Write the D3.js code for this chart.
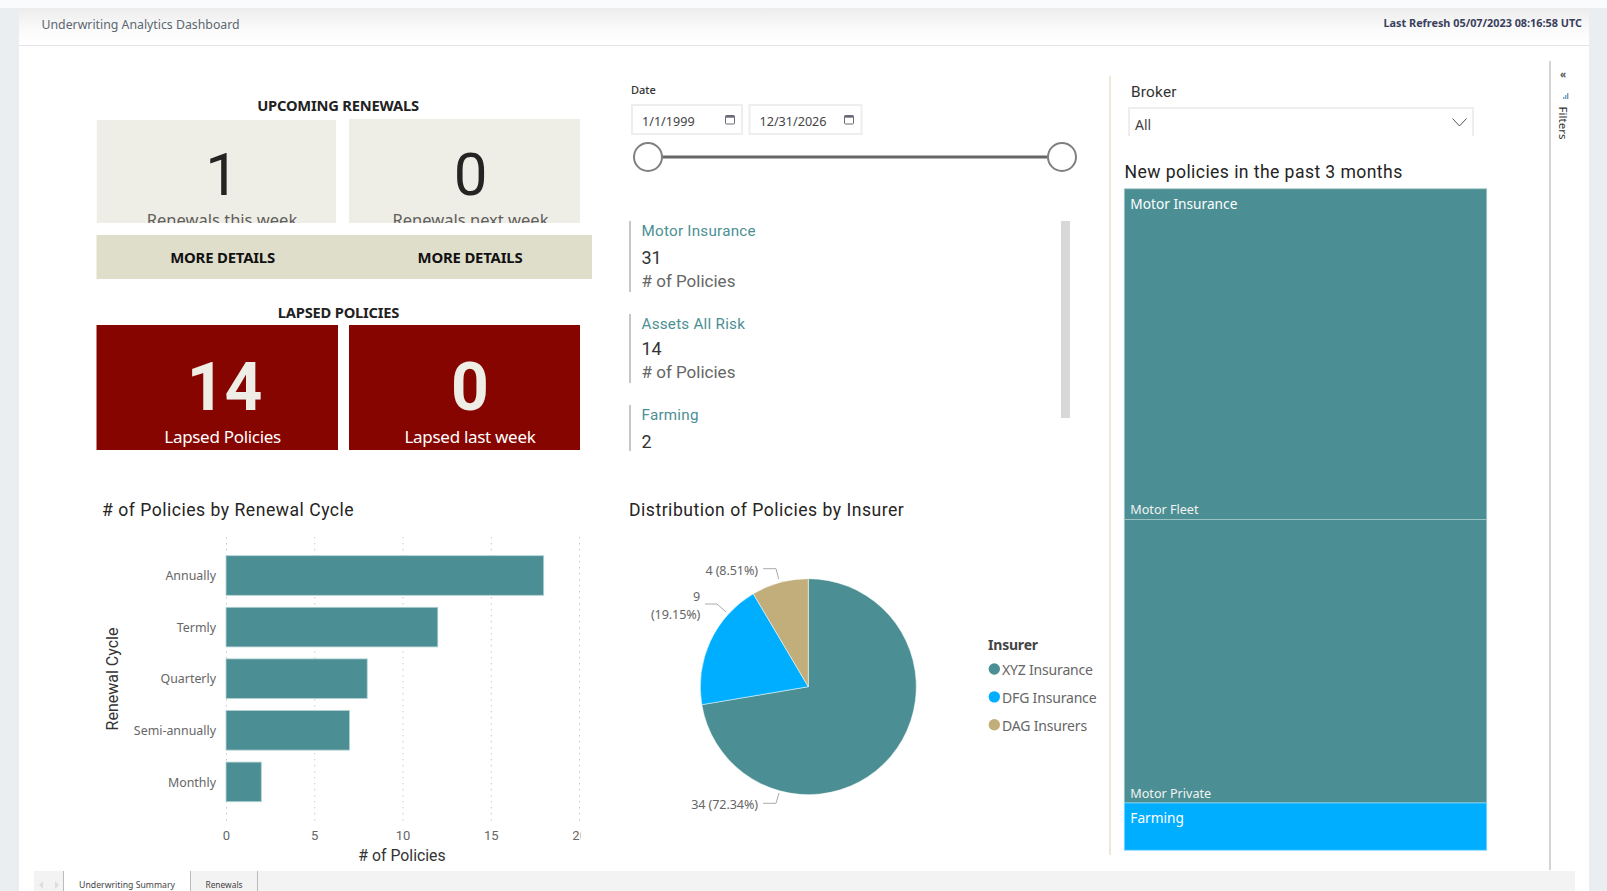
<!DOCTYPE html>
<html>
<head>
<meta charset="utf-8">
<title>Underwriting Analytics Dashboard</title>
<script src="https://cdn.jsdelivr.net/npm/d3@7"></script>
<style>
  html, body { margin: 0; padding: 0; background: #fff; overflow: hidden; }
  svg { display: block; }
  text { font-family: "Noto Sans", sans-serif; }
  .din { font-family: Roboto, sans-serif; }
</style>
</head>
<body>
<svg id="page" width="1607" height="891"></svg>
<script>
// chart values
const renewalCycles = ["Annually", "Termly", "Quarterly", "Semi-annually", "Monthly"];
const renewalCounts = [18, 12, 8, 7, 2];
const renewalTicks = [0, 5, 10, 15, 20];

const insurers = ["XYZ Insurance", "DFG Insurance", "DAG Insurers"];
const insurerCounts = [34, 9, 4];
const insurerPercents = ["72.34%", "19.15%", "8.51%"];

const newPolicyGroups = ["Motor Insurance", "Farming"];
const motorLeaves = ["Motor Fleet", "Motor Private"];
const motorLeafCounts = [7, 6];
const farmingCount = 1;

const lineNames = ["Motor Insurance", "Assets All Risk", "Farming"];
const lineCounts = [31, 14, 2];

const teal = "#4b8f94", blue = "#00aeff", tan = "#c2ae7a", darkRed = "#870500";
const insurerColor = d3.scaleOrdinal().domain(insurers).range([teal, blue, tan]);

const svg = d3.select("#page");
const defs = svg.append("defs");

function label(parent, x, y, str, size, opts = {}) {
  return parent.append("text")
    .attr("class", opts.din ? "din" : null)
    .attr("x", x).attr("y", y)
    .attr("dy", "0.35em")
    .attr("text-anchor", opts.anchor || "start")
    .attr("font-size", size)
    .attr("font-weight", opts.weight || 400)
    .attr("letter-spacing", opts.spacing || null)
    .attr("fill", opts.color || "#333")
    .text(str);
}

function clip(id, x, y, w, h) {
  defs.append("clipPath").attr("id", id)
    .append("rect").attr("x", x).attr("y", y).attr("width", w).attr("height", h);
}

function DrawFrame() {
  const grad = defs.append("linearGradient").attr("id", "headGrad")
    .attr("x1", 0).attr("x2", 0).attr("y1", 0).attr("y2", 1);
  grad.append("stop").attr("offset", 0).attr("stop-color", "#ececec");
  grad.append("stop").attr("offset", 0.6).attr("stop-color", "#fbfbfb");
  grad.append("stop").attr("offset", 1).attr("stop-color", "#fff");

  svg.append("rect").attr("width", 1607).attr("height", 891).attr("fill", "#eaeef1");
  svg.append("rect").attr("x", 19).attr("y", 8).attr("width", 1570).attr("height", 883).attr("fill", "#fff");
  svg.append("rect").attr("x", 19).attr("y", 8).attr("width", 1570).attr("height", 37).attr("fill", "url(#headGrad)");
  svg.append("rect").attr("width", 1607).attr("height", 8).attr("fill", "#f9fbfd");
  svg.append("line").attr("x1", 19).attr("x2", 1589).attr("y1", 45.5).attr("y2", 45.5).attr("stroke", "#e3e3e8");

  label(svg, 41.5, 24.5, "Underwriting Analytics Dashboard", 12.3, {color: "#5c6670"});
  label(svg, 1582, 23, "Last Refresh 05/07/2023 08:16:58 UTC", 10.85, {anchor: "end", weight: 700, color: "#3a3f5c"});

  // divider lines
  svg.append("line").attr("x1", 1110).attr("x2", 1110).attr("y1", 76).attr("y2", 855)
    .attr("stroke", "#efe8d8").attr("stroke-width", 2);
  svg.append("line").attr("x1", 1550).attr("x2", 1550).attr("y1", 61).attr("y2", 870)
    .attr("stroke", "#aaa").attr("stroke-width", 1);

  // filters pane
  label(svg, 1563, 74, "«", 10, {anchor: "middle", weight: 700, color: "#555"});
  svg.selectAll(".filterBar").data([2, 4, 6]).join("rect")
    .attr("x", d => 1561 + d).attr("y", d => 99 - d).attr("width", 1.4).attr("height", d => d)
    .attr("fill", "#6f9fc4");
  svg.append("text").attr("transform", "translate(1563,123) rotate(90)")
    .attr("text-anchor", "middle").attr("dy", "0.35em")
    .attr("font-size", 11.5).attr("fill", "#333").text("Filters");

  // page tabs
  svg.append("rect").attr("x", 34).attr("y", 871).attr("width", 1541).attr("height", 20).attr("fill", "#f3f3f3");
  svg.append("rect").attr("x", 63).attr("y", 871).attr("width", 127).attr("height", 20).attr("fill", "#fff");
  svg.selectAll(".tabLine").data([63.5, 190.5, 257.5]).join("line")
    .attr("x1", d => d).attr("x2", d => d).attr("y1", 871).attr("y2", 891).attr("stroke", "#bbb");
  label(svg, 127, 885, "Underwriting Summary", 8.7, {anchor: "middle", color: "#444"});
  label(svg, 224, 885, "Renewals", 8.4, {anchor: "middle", color: "#444"});
  svg.append("path").attr("d", "M43,881 L39,885 L43,889 Z").attr("fill", "#ddd");
  svg.append("path").attr("d", "M55,881 L59,885 L55,889 Z").attr("fill", "#ddd");
}

function DrawCards() {
  label(svg, 338, 106, "UPCOMING RENEWALS", 14.7, {anchor: "middle", weight: 700, color: "#222", spacing: "-0.2"});
  label(svg, 338.5, 313, "LAPSED POLICIES", 14.7, {anchor: "middle", weight: 700, color: "#222", spacing: "-0.2"});

  // upcoming cards, the caption is cut by the card edge like in the report
  const cards = [
    {x: 96.5, w: 239.5, y: 120, num: "1", cap: "Renewals this week", cx: 222},
    {x: 349, w: 231, y: 119, num: "0", cap: "Renewals next week", cx: 470.5}
  ];
  cards.forEach((c, i) => {
    clip("card" + i, c.x, c.y, c.w, 223 - c.y);
    const g = svg.append("g").attr("clip-path", `url(#card${i})`);
    g.append("rect").attr("x", c.x).attr("y", c.y).attr("width", c.w).attr("height", 223 - c.y).attr("fill", "#efeee6");
    label(g, c.cx, 173.5, c.num, 60, {anchor: "middle", din: true, color: "#252423"});
    label(g, c.cx, 220.5, c.cap, 16.5, {anchor: "middle", color: "#605e5c"});
  });

  svg.append("rect").attr("x", 96.5).attr("y", 235).attr("width", 495.5).attr("height", 44).attr("fill", "#dfdecb");
  label(svg, 222.6, 257.5, "MORE DETAILS", 14.9, {anchor: "middle", weight: 700, color: "#111", spacing: "-0.2"});
  label(svg, 470, 257.5, "MORE DETAILS", 14.9, {anchor: "middle", weight: 700, color: "#111", spacing: "-0.2"});

  const lapsed = [
    {x: 96.5, w: 241.5, num: "14", cap: "Lapsed Policies", cx: 224.6, capx: 222.6},
    {x: 349, w: 231, num: "0", cap: "Lapsed last week", cx: 470, capx: 470}
  ];
  lapsed.forEach(c => {
    svg.append("rect").attr("x", c.x).attr("y", 325).attr("width", c.w).attr("height", 125).attr("fill", darkRed);
    label(svg, c.cx, 387, c.num, 66, {anchor: "middle", weight: 700, din: true, color: "#efeee6"});
    label(svg, c.capx, 437, c.cap, 17, {anchor: "middle", color: "#fff", spacing: "-0.3"});
  });
}

function DrawDateSlicer() {
  label(svg, 631, 90, "Date", 11, {color: "#333", weight: 500});
  const boxes = [
    {x: 632, w: 110, str: "1/1/1999", ix: 730},
    {x: 749.5, w: 112, str: "12/31/2026", ix: 849}
  ];
  boxes.forEach(b => {
    svg.append("rect").attr("x", b.x).attr("y", 105).attr("width", b.w).attr("height", 29)
      .attr("fill", "#fff").attr("stroke", "#eee").attr("stroke-width", 2);
    label(svg, b.x + 10, 121.5, b.str, 12.6, {color: "#444"});
    svg.append("rect").attr("x", b.ix - 4.5).attr("y", 115.5).attr("width", 9).attr("height", 8.5).attr("rx", 1)
      .attr("fill", "none").attr("stroke", "#6b6b78");
    svg.append("rect").attr("x", b.ix - 4.5).attr("y", 115.5).attr("width", 9).attr("height", 2.2).attr("fill", "#6b6b78");
  });
  svg.append("line").attr("x1", 648).attr("x2", 1062).attr("y1", 157).attr("y2", 157)
    .attr("stroke", "#666").attr("stroke-width", 3);
  svg.selectAll(".handle").data([648, 1062]).join("circle")
    .attr("cx", d => d).attr("cy", 157).attr("r", 14)
    .attr("fill", "#fff").attr("stroke", "#808080").attr("stroke-width", 2);
}

function DrawMultiRowCard() {
  // clip keeps the list inside the scroll area, the third row has no caption showing
  const rows = [
    {top: 221, bottom: 292, name: 231, num: 258, cap: 281.5},
    {top: 314, bottom: 383, name: 324, num: 349, cap: 372.5},
    {top: 405, bottom: 451, name: 415, num: 441.5, cap: null}
  ];
  rows.forEach((r, i) => {
    svg.append("line").attr("x1", 630).attr("x2", 630).attr("y1", r.top).attr("y2", r.bottom)
      .attr("stroke", "#b3b3b3").attr("stroke-width", 1.5);
    label(svg, 641.5, r.name, lineNames[i], 15.2, {din: true, color: teal, spacing: "0.25"});
    label(svg, 641.5, r.num, lineCounts[i], 18, {din: true, color: "#333"});
    if (r.cap) label(svg, 641.5, r.cap, "# of Policies", 17, {din: true, color: "#666"});
  });
  svg.append("rect").attr("x", 1061).attr("y", 221).attr("width", 9).attr("height", 197).attr("fill", "#d8d8d8");
}

function DrawBarChart() {
  label(svg, 102, 510, "# of Policies by Renewal Cycle", 17.6, {din: true, color: "#252423", spacing: "0.5"});

  const x = d3.scaleLinear().domain([0, 20]).range([226, 579]);
  const y = d3.scaleBand().domain(renewalCycles).range([549.7, 807.7]).paddingInner(0.232).paddingOuter(0.116);

  clip("barClip", 90, 530, 490.5, 310);
  const g = svg.append("g").attr("clip-path", "url(#barClip)");

  // x axis with dotted grid
  const xAxis = g.append("g").attr("transform", "translate(0,823)")
    .call(d3.axisBottom(x).tickValues(renewalTicks).tickSize(286).tickPadding(0));
  xAxis.select(".domain").remove();
  xAxis.selectAll("line")
    .attr("transform", "translate(0,-286)")
    .attr("stroke", "#c8c8c8").attr("stroke-dasharray", "1.5 4.5");
  xAxis.selectAll("text")
    .attr("y", 12).attr("dy", "0.35em")
    .attr("class", "din")
    .attr("font-size", 13).attr("fill", "#666");

  g.selectAll(".bar").data(renewalCounts).join("rect")
    .attr("class", "bar")
    .attr("x", x(0))
    .attr("y", (d, i) => y(renewalCycles[i]))
    .attr("width", d => x(d) - x(0))
    .attr("height", y.bandwidth())
    .attr("fill", teal)
    .attr("stroke", "#b5d3d5").attr("stroke-width", 0.8);

  const yAxis = svg.append("g").attr("transform", "translate(226,0)")
    .call(d3.axisLeft(y).tickSize(0).tickPadding(10));
  yAxis.select(".domain").remove();
  yAxis.selectAll("text").attr("font-size", 12.4).attr("fill", "#666").attr("dy", "0.38em");

  label(svg, 402, 855.7, "# of Policies", 15.8, {anchor: "middle", din: true, color: "#333"});
  svg.append("text").attr("class", "din")
    .attr("transform", "translate(112,679) rotate(-90)")
    .attr("text-anchor", "middle").attr("dy", "0.35em")
    .attr("font-size", 16).attr("fill", "#333").text("Renewal Cycle");
}

function DrawPie() {
  label(svg, 629, 510, "Distribution of Policies by Insurer", 17.6, {din: true, color: "#252423", spacing: "0.5"});

  const cx = 808.3, cy = 686.7, r = 108;
  const arcs = d3.pie().sort(null)(insurerCounts);
  const arc = d3.arc().innerRadius(0).outerRadius(r);
  const g = svg.append("g").attr("transform", `translate(${cx},${cy})`);
  g.selectAll("path").data(arcs).join("path")
    .attr("d", arc)
    .attr("fill", (d, i) => insurerColor(insurers[i]))
    .attr("stroke", "#fff").attr("stroke-width", 0.5);

  // leader lines: Power BI moves them away from the slice middle
  const leaders = [
    {pts: [[763, 803.3], [776, 803.3], [779, 793]]},
    {pts: [[705, 604], [717, 604], [726, 612]]},
    {pts: [[763, 568.7], [776, 568.7], [778.7, 579]]}
  ];
  svg.selectAll(".leader").data(leaders).join("path")
    .attr("d", d => d3.line()(d.pts))
    .attr("fill", "none").attr("stroke", "#aaa");

  label(svg, 758, 804.3, `${insurerCounts[0]} (${insurerPercents[0]})`, 12.6, {anchor: "end", color: "#666", spacing: "-0.1"});
  label(svg, 700.3, 597, insurerCounts[1], 12.6, {anchor: "end", color: "#666"});
  label(svg, 700.3, 614.7, `(${insurerPercents[1]})`, 12.6, {anchor: "end", color: "#666", spacing: "-0.1"});
  label(svg, 758, 570.7, `${insurerCounts[2]} (${insurerPercents[2]})`, 12.6, {anchor: "end", color: "#666", spacing: "-0.1"});

  // legend
  label(svg, 988, 644.7, "Insurer", 14, {weight: 700, color: "#444", spacing: "-0.2"});
  const legendY = d3.scalePoint().domain(insurers).range([669, 724.7]);
  svg.selectAll(".dot").data(insurers).join("circle")
    .attr("cx", 994.3).attr("cy", d => legendY(d)).attr("r", 5.7)
    .attr("fill", d => insurerColor(d));
  insurers.forEach(d => label(svg, 1002, legendY(d) + 1, d, 14, {color: "#666", spacing: "-0.18"}));
}

function DrawBrokerSlicer() {
  label(svg, 1131, 91.7, "Broker", 15.4, {din: true, color: "#333", spacing: "0.2"});
  svg.append("path").attr("d", "M1129,136 V108 H1473 V136")
    .attr("fill", "none").attr("stroke", "#eee").attr("stroke-width", 2);
  label(svg, 1135, 124.7, "All", 14, {color: "#444"});
  svg.append("path").attr("d", "M1452.5,118.5 L1459.5,126 L1466.5,118.5")
    .attr("fill", "none").attr("stroke", "#555");
}

function DrawTreemap() {
  label(svg, 1124.5, 171.7, "New policies in the past 3 months", 17.6, {din: true, color: "#252423", spacing: "0.42"});

  const tree = {
    name: "all",
    children: [
      {name: newPolicyGroups[0], children: motorLeaves.map((n, i) => ({name: n, value: motorLeafCounts[i]}))},
      {name: newPolicyGroups[1], value: farmingCount}
    ]
  };
  const x0 = 1124.3, y0 = 188.8;
  const root = d3.hierarchy(tree).sum(d => d.value);
  d3.treemap().tile(d3.treemapSlice).size([362.4, 661.4])(root);

  const g = svg.append("g").attr("transform", `translate(${x0},${y0})`);
  g.selectAll("rect").data(root.leaves()).join("rect")
    .attr("x", d => d.x0).attr("y", d => d.y0)
    .attr("width", d => d.x1 - d.x0).attr("height", d => d.y1 - d.y0)
    .attr("fill", d => d.parent.depth === 0 ? blue : teal)
    .attr("stroke", d => d.parent.depth === 0 ? "#7fd6ff" : "#a5c7c9").attr("stroke-width", 0.8);

  // group label sits top left, leaf labels sit at the bottom of the tile
  root.children.forEach(node => {
    label(g, 6, node.y0 + 15, node.data.name, 13.7, {color: "#fff"});
    (node.children || []).forEach(leaf => {
      label(g, 6, leaf.y1 - 9.5, leaf.data.name, 12.6, {color: "#f2f2f2"});
    });
  });
}

DrawFrame();
DrawCards();
DrawDateSlicer();
DrawMultiRowCard();
DrawBarChart();
DrawPie();
DrawBrokerSlicer();
DrawTreemap();
</script>
</body>
</html>
